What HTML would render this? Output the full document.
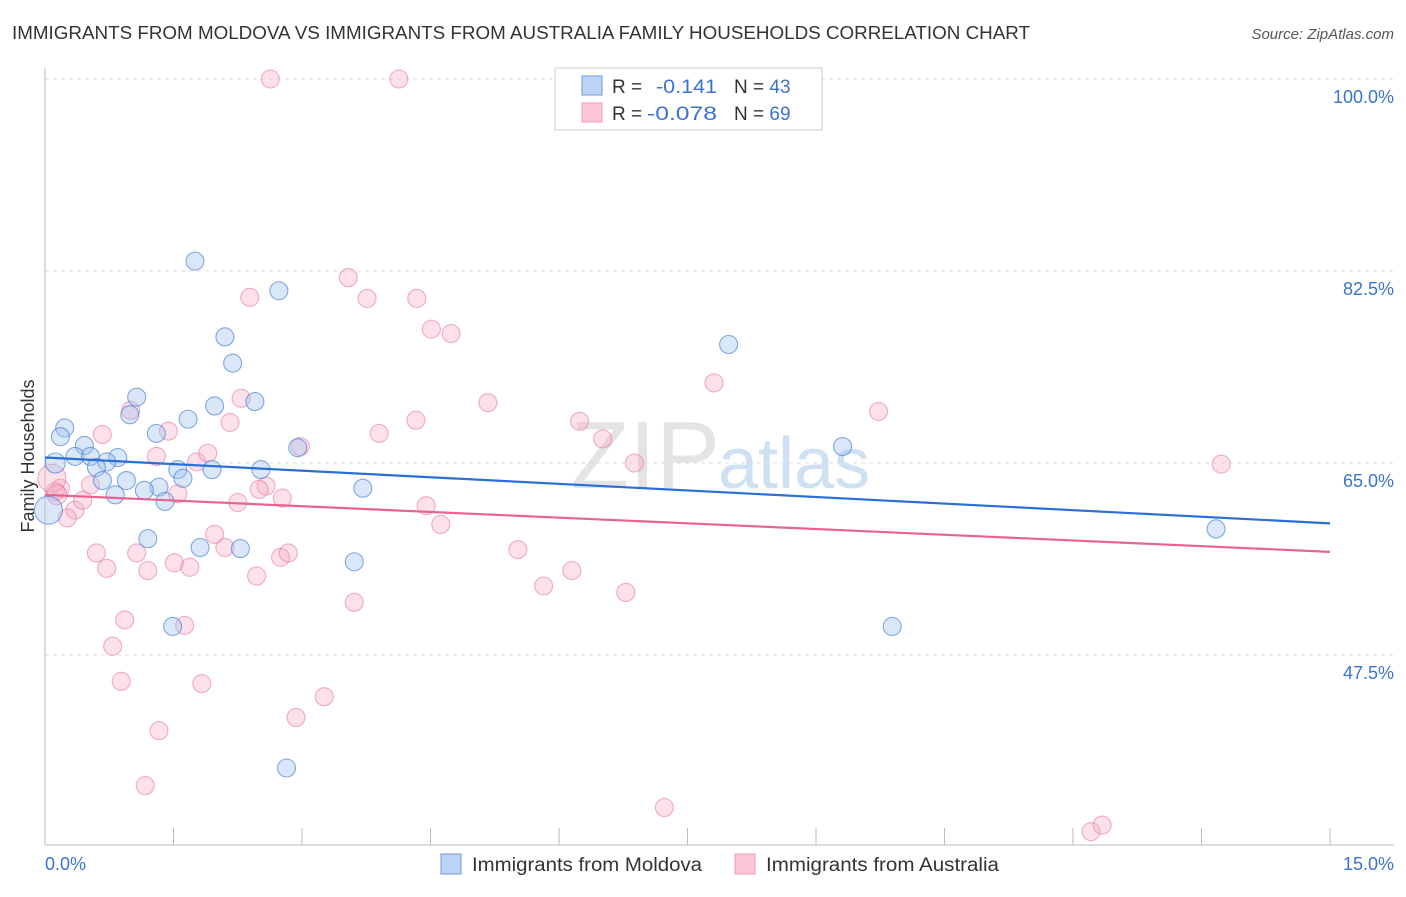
<!DOCTYPE html>
<html><head><meta charset="utf-8">
<style>
body{margin:0;background:#fff;font-family:"Liberation Sans",sans-serif;}
svg text{font-family:"Liberation Sans",sans-serif;}
</style></head>
<body>
<svg id="chart" width="1406" height="892" xmlns="http://www.w3.org/2000/svg">
<text x="12" y="39" font-size="18" fill="#333" textLength="1018" lengthAdjust="spacingAndGlyphs">IMMIGRANTS FROM MOLDOVA VS IMMIGRANTS FROM AUSTRALIA FAMILY HOUSEHOLDS CORRELATION CHART</text>
<text x="1394" y="39" font-size="15" fill="#555" font-style="italic" text-anchor="end">Source: ZipAtlas.com</text>
<text x="720" y="488" font-size="96" fill="#e4e4e4" text-anchor="end" font-family="Liberation Serif">ZIP</text>
<text x="718" y="488" font-size="72" fill="#cfe0f3">atlas</text>
<g id="grid"></g>
<g id="axes"></g>
<g id="pts"></g>
<g id="trend"></g>
<text transform="translate(34,456) rotate(-90)" font-size="18" fill="#333" text-anchor="middle">Family Households</text>
<text x="45" y="870" font-size="18" fill="#3b73d1">0.0%</text>
<text x="1394" y="870" font-size="18" fill="#3b73d1" text-anchor="end">15.0%</text>
<g>
<rect x="555" y="68" width="267" height="62" fill="#fff" stroke="#ccc"/>
<rect x="582" y="76" width="20" height="19" fill="#bcd4f5" stroke="#6b9be0"/>
<rect x="582" y="103" width="20" height="19" fill="#fac5d5" stroke="#ef9cb6"/>
<text x="612" y="93" font-size="19" fill="#333">R = <tspan x="656" fill="#3b73d1" textLength="61" lengthAdjust="spacingAndGlyphs">-0.141</tspan><tspan x="734">N = </tspan><tspan fill="#3b73d1">43</tspan></text>
<text x="612" y="120" font-size="19" fill="#333">R = <tspan x="647" fill="#3b73d1" textLength="70" lengthAdjust="spacingAndGlyphs">-0.078</tspan><tspan x="734">N = </tspan><tspan fill="#3b73d1">69</tspan></text>
</g>
<g>
<rect x="441" y="854" width="20" height="20" fill="#bcd4f5" stroke="#6b9be0"/>
<text x="472" y="871" font-size="19" fill="#333" textLength="230" lengthAdjust="spacingAndGlyphs">Immigrants from Moldova</text></g>
<g>
<rect x="735" y="854" width="20" height="20" fill="#fac5d5" stroke="#ef9cb6"/>
<text x="766" y="871" font-size="19" fill="#333" textLength="233" lengthAdjust="spacingAndGlyphs">Immigrants from Australia</text></g>
</svg>
<script>
const yTicks=[100,82.5,65,47.5];
const yTickLabels=["100.0%","82.5%","65.0%","47.5%"];
const xTicks=[0,1.5,3,4.5,6,7.5,9,10.5,12,13.5,15];
const blueX=[1.75,2.73,2.10,2.19,7.98,1.07,0.99,1.67,1.98,2.45,0.23,0.18,1.30,0.46,0.35,0.53,0.85,0.72,0.60,1.55,1.61,1.95,2.52,0.67,0.95,1.33,1.16,0.82,1.40,2.95,3.71,9.31,13.67,1.20,1.81,2.28,3.61,1.49,9.89,2.82,0.04,0.12];
const blueY=[83.4,80.7,76.5,74.1,75.8,71.0,69.4,69.0,70.2,70.6,68.2,67.4,67.7,66.6,65.6,65.6,65.5,65.1,64.6,64.4,63.6,64.4,64.4,63.4,63.4,62.8,62.5,62.1,61.5,66.4,62.7,66.5,59.0,58.1,57.3,57.2,56.0,50.1,50.1,37.2,60.7,65.0];
const blueR=[9,9,9,9,9,9,9,9,9,9,9,9,9,9,9,9,9,9,9,9,9,9,9,9,9,9,9,9,9,9,9,9,9,9,9,9,9,9,9,9,14,10];
const pinkX=[2.63,4.13,3.54,2.39,3.76,4.34,4.51,4.74,7.81,5.17,1.00,2.29,2.16,1.44,0.67,1.30,1.77,1.90,6.24,4.33,3.90,6.51,9.73,6.88,13.73,2.98,2.58,2.50,2.25,2.77,1.55,0.53,0.18,0.12,0.35,0.44,0.26,4.45,4.62,1.98,0.60,1.07,0.72,1.20,1.51,1.69,2.10,2.47,2.75,2.84,5.52,6.15,5.82,6.78,3.61,0.93,1.63,0.79,0.89,1.83,3.26,2.93,1.33,1.17,7.23,12.21,12.34,0.08,0.14];
const pinkY=[100,100,81.9,80.1,80.0,80.0,77.2,76.8,72.3,70.5,69.8,70.9,68.7,67.9,67.6,65.6,65.1,65.9,68.8,68.9,67.7,67.2,69.7,65.0,64.9,66.5,62.9,62.6,61.4,61.8,62.2,63.0,62.7,62.4,60.7,61.6,60.0,61.1,59.4,58.5,56.8,56.8,55.4,55.2,55.9,55.5,57.3,54.7,56.4,56.8,57.1,55.2,53.8,53.2,52.3,50.7,50.2,48.3,45.1,44.9,43.7,41.8,40.6,35.6,33.6,31.4,32.0,63.6,62.1];
const blueTrend=[65.5,59.5];
const pinkTrend=[62.1,56.9];
const X=v=>45+v/15*1285;
const Y=v=>79+(100-v)/17.5*192;
const NS="http://www.w3.org/2000/svg";
function mk(t,a,p){const e=document.createElementNS(NS,t);for(const k in a)e.setAttribute(k,a[k]);p.appendChild(e);return e;}
const grid=document.getElementById('grid'),axes=document.getElementById('axes'),pts=document.getElementById('pts'),tr=document.getElementById('trend');
yTicks.forEach((v,i)=>{
 const l=mk('line',{x1:45,x2:1394,y1:Y(v),y2:Y(v),stroke:'#ddd','stroke-dasharray':'4,4'},grid);
 
 
 const t=mk('text',{x:1394,y:Y(v)+24,'font-size':18,fill:'#3b73d1','text-anchor':'end'},grid);
 t.textContent=yTickLabels[i];
 
 
});
const ya=mk('line',{x1:45,x2:45,y1:68,y2:845,stroke:'#bbb'},axes);


const xa=mk('line',{x1:45,x2:1394,y1:845,y2:845,stroke:'#bbb'},axes);


xTicks.forEach(v=>{
 const l=mk('line',{x1:X(v),x2:X(v),y1:828,y2:845,stroke:'#bbb'},axes);
 
 
});
pinkX.forEach((v,i)=>{
 const c=mk('circle',{cx:X(v),cy:Y(pinkY[i]),r:(i>=67?(i==67?14:10):9),fill:'rgba(247,170,195,0.35)',stroke:'rgba(232,120,158,0.6)','stroke-width':1.1},pts);
 
 
});
blueX.forEach((v,i)=>{
 const c=mk('circle',{cx:X(v),cy:Y(blueY[i]),r:blueR[i],fill:'rgba(160,195,240,0.4)',stroke:'rgba(70,125,210,0.65)','stroke-width':1.1},pts);
 
 
});
const bl=mk('line',{x1:X(0),x2:X(15),y1:Y(blueTrend[0]),y2:Y(blueTrend[1]),stroke:'#2b6fd6','stroke-width':2.2},tr);


const pl=mk('line',{x1:X(0),x2:X(15),y1:Y(pinkTrend[0]),y2:Y(pinkTrend[1]),stroke:'#e8638f','stroke-width':2.2},tr);


</script>
</body></html>
